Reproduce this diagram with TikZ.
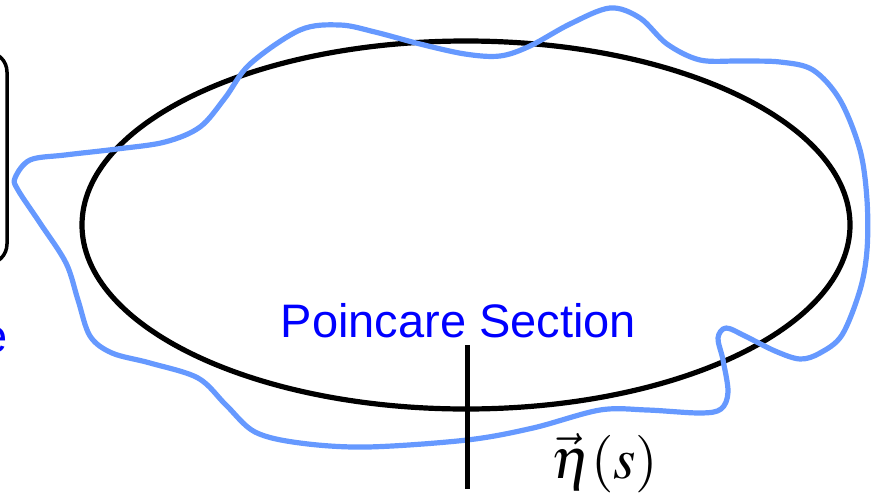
\documentclass[tikz,border=0pt]{standalone}
\usepackage{graphicx}
\usepackage{mathptmx}
\usepackage{fontspec}
\newfontfamily\arialfont{Liberation Sans}
\definecolor{orbitblue}{RGB}{102,153,255}
\definecolor{labelblue}{RGB}{0,0,255}
\tikzset{
  orbit/.style={draw=black, line width=5.2pt},
  perturbed/.style={draw=orbitblue, line width=5.2pt, line join=round},
  sectionline/.style={draw=black, line width=5pt},
  framebox/.style={draw=black, line width=3.5pt, rounded corners=20pt},
  bluelabel/.style={text=labelblue, inner sep=0pt, font=\arialfont\fontsize{47}{56}\selectfont},
  mathlabel/.style={inner sep=0pt, font=\fontsize{46}{55}\selectfont}
}
\begin{document}
\begin{tikzpicture}[x=1pt, y=-1pt]
\useasboundingbox (0,0) rectangle (875,493);
\clip (0,0) rectangle (875,493);
% partial frame at left edge
\draw[framebox] (-60,52) rectangle (7,264);
\node[bluelabel, anchor=base east] (leftlabel) at (8,352) {e};
% unperturbed orbit
\draw[orbit] (466,225) ellipse [x radius=384, y radius=184];
% perturbed orbit
\draw[perturbed] plot[smooth cycle, tension=0.55] coordinates {
(15,178) (30,160) (65,155) (117,149) (165,142) (200,127) (225,98)
(250,64) (300,30) (340,25) (375,32) (420,44) (465,54) (500,56)
(530,46) (570,24) (610,8) (640,18) (667,44) (700,60) (740,61)
(780,62) (813,70) (840,100) (860,150) (867,200) (867,250) (860,290)
(842,335) (820,353) (800,359) (775,351) (745,336) (726,328) (718,338)
(723,360) (728,392) (721,409) (700,413) (647,410) (600,410) (533,428)
(467,440) (367,447) (300,443) (255,432) (226,405) (198,378) (150,363)
(112,353) (90,336) (78,300) (66,263) (40,223) (18,190)
};
% Poincare section
\coordinate (sectop) at (467,345);
\coordinate (secbot) at (467,489);
\draw[sectionline] (sectop) -- (secbot);
\node[bluelabel, anchor=base] (seclabel) at (458.5,337) {Poincare Section};
\node[mathlabel, anchor=base] (etalabel) at (605,478) {\scalebox{1.25}{$\vec{\eta}(s)$}};
\end{tikzpicture}
\end{document}
